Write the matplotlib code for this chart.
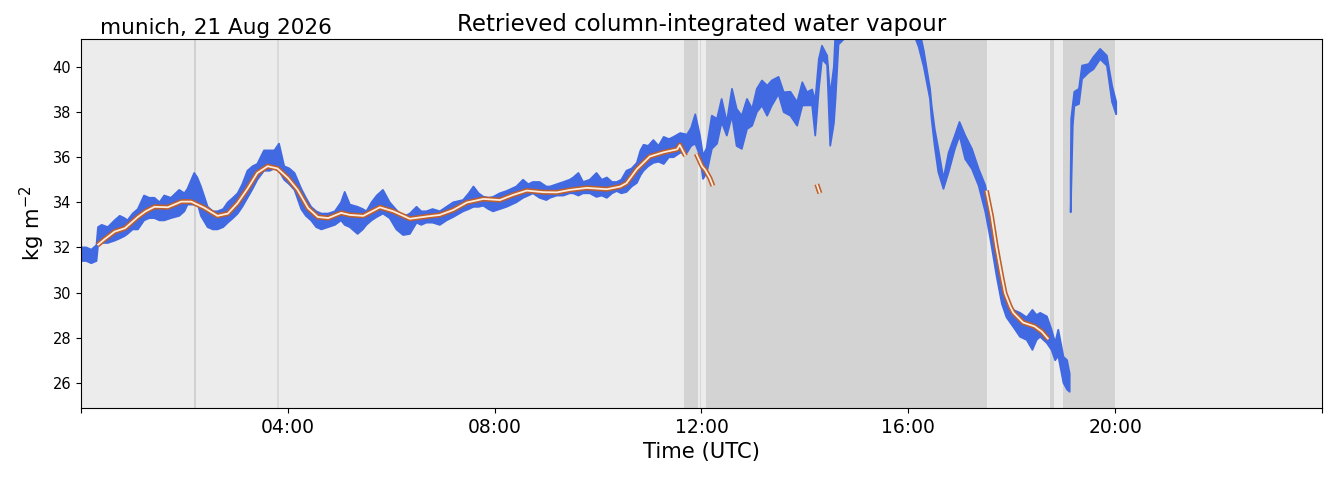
import numpy as np
import matplotlib
matplotlib.use("Agg")
import matplotlib.pyplot as plt

nan = np.nan

# ---- data (hours UTC, kg m-2) ----
band_t = [0.00, 0.10, 0.20, 0.30, 0.33, 0.40, 0.52, 0.65, 0.75, 0.84, 0.90, 1.00, 1.10, 1.22, 1.32,
          1.42, 1.52, 1.61, 1.74, 1.90, 2.00, 2.06, 2.19, 2.25, 2.32, 2.45, 2.55, 2.64, 2.75, 2.84,
          2.94, 3.03, 3.12, 3.22, 3.32, 3.41, 3.54, 3.65, 3.74, 3.83, 3.93, 4.03, 4.13, 4.26, 4.35,
          4.45, 4.55, 4.65, 4.78, 4.91, 5.03, 5.10, 5.20, 5.35, 5.45, 5.52, 5.62, 5.72, 5.84, 5.97,
          6.10, 6.23, 6.36, 6.49, 6.58, 6.68, 6.80, 6.94, 7.07, 7.20, 7.39, 7.50, 7.59, 7.69, 7.78,
          7.88, 7.97, 8.10, 8.23, 8.42, 8.55, 8.65, 8.74, 8.87, 9.00, 9.07, 9.20, 9.33, 9.45, 9.52,
          9.62, 9.71, 9.84, 9.97, 10.07, 10.17, 10.27, 10.36, 10.45, 10.55, 10.65, 10.75, 10.82, 10.88,
          10.97, 11.07, 11.17, 11.27, 11.37, 11.46, 11.59, 11.72, 11.80, 11.88, 11.97, 12.03, 12.10,
          12.20, 12.30, 12.39, 12.49, 12.59, 12.68, 12.78, 12.88, 12.98, 13.07, 13.17, 13.27, 13.36,
          13.49, 13.59, 13.72, 13.85, 13.95, 14.04, 14.14, 14.20, 14.27, 14.33, 14.43, 14.49, 14.56,
          14.59, 14.65, 15.00, 15.50, 16.10, 16.20, 16.30, 16.42, 16.45, 16.51, 16.58, 16.68, 16.78,
          16.90, 16.99, 17.10, 17.23, 17.36, 17.49, 17.58, 17.71, 17.81, 17.90, 18.03, 18.16, 18.29,
          18.40, 18.48, 18.55, 18.68, 18.77, 18.84, 18.90, 19.00, 19.07, 19.12,
          19.13,
          19.14, 19.15, 19.18, 19.21, 19.30, 19.36, 19.49, 19.58, 19.71, 19.84, 19.87, 19.94, 20.02]
band_lo = [31.4, 31.4, 31.3, 31.4, 32.1, 32.2, 32.2, 32.3, 32.4, 32.5, 32.6, 32.8, 32.8, 33.2, 33.3,
           33.3, 33.2, 33.2, 33.3, 33.4, 33.6, 33.9, 33.9, 34.0, 33.4, 32.9, 32.8, 32.8, 32.9, 33.1,
           33.3, 33.5, 33.8, 34.2, 34.6, 35.0, 35.4, 35.4, 35.5, 35.4, 35.0, 34.8, 34.55, 33.7, 33.4,
           33.2, 32.9, 32.8, 32.9, 33.0, 33.2, 33.0, 32.9, 32.6, 32.8, 33.0, 33.2, 33.35, 33.5, 33.3,
           32.8, 32.55, 32.6, 33.1, 33.0, 33.1, 33.1, 33.0, 33.2, 33.35, 33.6, 33.7, 33.8, 33.8, 33.85,
           33.7, 33.6, 33.7, 33.8, 34.0, 34.2, 34.3, 34.4, 34.2, 34.1, 34.2, 34.3, 34.3, 34.4, 34.4,
           34.3, 34.4, 34.4, 34.24, 34.3, 34.2, 34.4, 34.5, 34.4, 34.46, 34.7, 34.86, 35.2, 35.4,
           35.6, 35.75, 35.8, 35.7, 36.0, 36.0, 36.2, 36.2, 36.5, 36.6, 36.07, 35.04, 35.3,
           36.37, 36.6, 37.56, 36.96, 37.84, 36.5, 36.37, 37.25, 37.4, 38.0, 38.29, 37.84, 38.29,
           38.8, 38.0, 37.84, 37.4, 38.29, 38.3, 38.3, 36.96, 39.03, 40.35, 40.1, 36.51, 37.5,
           38.5, 41.0, 41.8, 41.8, 41.5, 40.9, 40.0, 38.58, 37.7, 36.5, 35.35, 34.6, 35.35,
           36.37, 36.96, 35.92, 35.48, 34.74, 33.57, 32.47, 30.7, 29.5, 28.9, 28.48, 28.04, 27.9,
           27.46, 27.9, 28.04, 27.76, 27.46, 27.0, 27.2, 26.0, 25.7, 25.6,
           nan,
           33.56, 34.5, 37.4, 38.27, 38.36, 39.47, 39.76, 39.9, 40.35, 40.06, 39.6, 38.45, 37.9]
band_hi = [32.0, 32.0, 31.9, 32.1, 32.9, 33.0, 32.9, 33.2, 33.4, 33.3, 33.2, 33.5, 33.7, 34.3, 34.2,
           34.2, 34.0, 34.3, 34.2, 34.55, 34.4, 34.6, 35.3, 35.1, 34.7, 33.8, 33.6, 33.6, 33.7, 34.0,
           34.2, 34.4, 34.8, 35.4, 35.6, 35.7, 36.3, 36.3, 36.3, 36.6, 35.6, 35.5, 35.3, 34.6, 34.2,
           33.8, 33.6, 33.5, 33.5, 33.6, 34.0, 34.46, 33.9, 33.8, 33.7, 33.6, 34.0, 34.3, 34.55, 34.0,
           33.66, 33.35, 33.5, 33.8, 33.6, 33.6, 33.7, 33.6, 33.8, 34.0, 34.1, 34.4, 34.7, 34.4, 34.25,
           34.2, 34.24, 34.4, 34.5, 34.7, 35.0, 34.8, 34.9, 34.9, 34.7, 34.7, 34.8, 34.9, 35.0, 35.1,
           35.3, 34.9, 35.0, 35.3, 35.0, 35.1, 34.9, 34.9, 35.0, 35.4, 35.5, 35.75, 36.3, 36.55,
           36.5, 36.76, 36.5, 36.9, 36.8, 36.9, 37.07, 37.0, 37.3, 37.9, 36.96, 36.07, 36.4,
           37.84, 37.7, 38.58, 37.55, 39.03, 38.14, 37.84, 38.58, 38.14, 39.03, 39.4, 39.17, 39.4,
           39.56, 38.88, 38.9, 38.44, 39.32, 38.88, 39.0, 38.5, 40.35, 40.94, 40.5, 38.73, 40.0,
           41.5, 43.0, 43.5, 43.5, 43.0, 41.8, 40.7, 39.03, 38.29, 37.25, 36.37, 35.04, 36.2,
           36.96, 37.56, 36.96, 36.37, 35.48, 34.74, 33.5, 32.2, 30.7, 29.8, 29.23, 29.1, 28.9,
           29.23, 29.0, 29.1, 28.94, 28.35, 27.77, 28.35, 27.15, 27.0, 26.4,
           nan,
           35.0, 37.7, 38.3, 38.9, 39.03, 40.06, 40.13, 40.44, 40.8, 40.5, 40.1, 39.17, 38.45]

smooth_t = [0.32, 0.45, 0.65, 0.85, 1.10, 1.25, 1.42, 1.68, 1.94, 2.13, 2.39, 2.64, 2.84, 3.03, 3.22,
            3.41, 3.61, 3.80, 4.00, 4.19, 4.39, 4.58, 4.78, 5.03, 5.20, 5.46, 5.78, 6.04, 6.36, 6.68,
            6.94, 7.20, 7.46, 7.78, 8.10, 8.36, 8.62, 8.94, 9.20, 9.46, 9.78, 10.17, 10.43, 10.55,
            10.75, 11.00, 11.27, 11.53, 11.58, 11.69,
            nan,
            11.90, 12.01, 12.07, 12.16, 12.22,
            nan,
            14.23, 14.29,
            nan,
            17.51, 17.61, 17.70, 17.80, 17.87, 17.97, 18.03, 18.22, 18.44, 18.58, 18.71]
smooth_v = [32.10, 32.35, 32.70, 32.85, 33.35, 33.60, 33.80, 33.78, 34.03, 34.03, 33.75, 33.40, 33.50,
            33.97, 34.60, 35.30, 35.60, 35.50, 35.08, 34.55, 33.75, 33.35, 33.30, 33.53, 33.44, 33.40,
            33.78, 33.60, 33.27, 33.37, 33.44, 33.66, 33.99, 34.15, 34.10, 34.33, 34.52, 34.45, 34.44,
            34.55, 34.64, 34.58, 34.70, 34.85, 35.47, 36.03, 36.22, 36.35, 36.54, 36.06,
            nan,
            36.15, 35.60, 35.44, 35.08, 34.73,
            nan,
            34.80, 34.40,
            nan,
            34.52, 33.37, 32.04, 30.78, 29.97, 29.38, 29.11, 28.67, 28.50, 28.27, 27.93]

flag_start = [2.185, 3.80, 11.66, 11.975, 12.09, 18.74, 18.99]
flag_end   = [2.215, 3.82, 11.94, 11.995, 17.52, 18.81, 20.00]
flag_color = ["#d0d0d0", "#dadada", "#d3d3d3", "#d6d6d6", "#d3d3d3", "#d3d3d3", "#d3d3d3"]

xtick_hours = [0, 4, 8, 12, 16, 20, 24]
xtick_labels = ["", "04:00", "08:00", "12:00", "16:00", "20:00", ""]
ytick_vals = [26, 28, 30, 32, 34, 36, 38, 40]

# ---- figure ----
fig = plt.figure(figsize=(13.34, 4.78), dpi=100)
ax = fig.add_axes([0.0607, 0.1464, 0.9303, 0.772])
ax.set_facecolor("#ececec")

for s, e, c in zip(flag_start, flag_end, flag_color):
    ax.axvspan(s, e, color=c, lw=0, zorder=0.5)

ax.fill_between(band_t, band_lo, band_hi, color="royalblue", edgecolor="royalblue",
                lw=1.3, zorder=2)

ax.plot(smooth_t, smooth_v, color="#bf5f2c", lw=3.6, zorder=3, solid_capstyle="butt")
ax.plot(smooth_t, smooth_v, color="#fdeee0", lw=1.3, zorder=4, solid_capstyle="butt")

ax.set_xlim(0, 24)
ax.set_ylim(24.88, 41.24)
ax.set_xticks(xtick_hours)
ax.set_xticklabels(xtick_labels)
ax.set_yticks(ytick_vals)
ax.tick_params(axis="x", labelsize=13.5)
ax.tick_params(axis="y", labelsize=10.5)
ax.set_xlabel("Time (UTC)", fontsize=15.2)
ax.set_ylabel("kg m$^{-2}$", fontsize=15.2)
ax.set_title("Retrieved column-integrated water vapour", fontsize=16.5, pad=6)
ax.text(0.0153, 1.0136, "munich, 21 Aug 2026", transform=ax.transAxes,
        fontsize=15.5, ha="left", va="baseline")

fig.savefig("out.png", dpi=100)
